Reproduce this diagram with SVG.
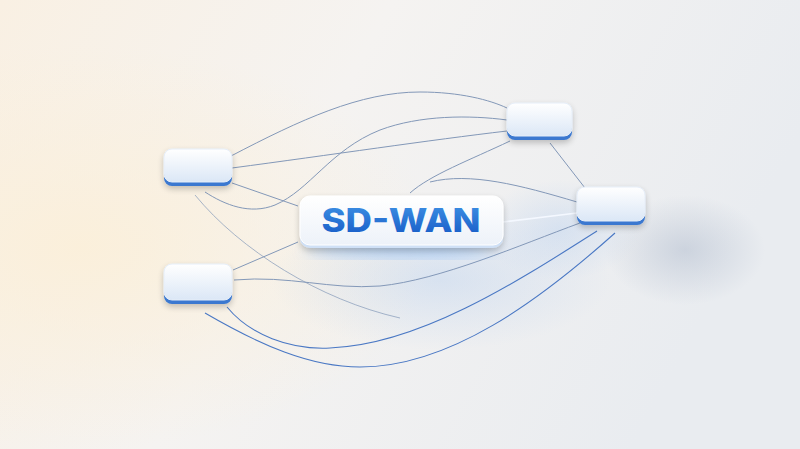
<svg xmlns="http://www.w3.org/2000/svg" width="800" height="449" viewBox="0 0 800 449">
<defs>
<linearGradient id="bg" x1="0" y1="0" x2="1" y2="0.3">
<stop offset="0" stop-color="#f9f0e3"/>
<stop offset="0.45" stop-color="#f5f3f1"/>
<stop offset="1" stop-color="#e9ecf0"/>
</linearGradient>
<radialGradient id="warm" cx="0.1" cy="0.55" r="0.45">
<stop offset="0" stop-color="#fbefd9" stop-opacity="0.9"/>
<stop offset="1" stop-color="#fbefd9" stop-opacity="0"/>
</radialGradient>
<radialGradient id="shade" cx="0.5" cy="0.5" r="0.5">
<stop offset="0" stop-color="#9fadc3" stop-opacity="0.4"/>
<stop offset="1" stop-color="#9fadc3" stop-opacity="0"/>
</radialGradient>
<radialGradient id="blueglow" cx="0.5" cy="0.5" r="0.5">
<stop offset="0" stop-color="#b3cdef" stop-opacity="0.4"/>
<stop offset="1" stop-color="#b3cdef" stop-opacity="0"/>
</radialGradient>
<linearGradient id="face" x1="0" y1="0" x2="0" y2="1">
<stop offset="0" stop-color="#ffffff"/>
<stop offset="1" stop-color="#dbe7f6"/>
</linearGradient>
<linearGradient id="cface" x1="0" y1="0" x2="0" y2="1">
<stop offset="0" stop-color="#ffffff"/>
<stop offset="1" stop-color="#edf2f9"/>
</linearGradient>
<linearGradient id="txt" x1="0" y1="0" x2="0" y2="1">
<stop offset="0" stop-color="#3f93e6"/>
<stop offset="1" stop-color="#1457c4"/>
</linearGradient>
<filter id="sh" x="-40%" y="-40%" width="180%" height="200%">
<feGaussianBlur in="SourceAlpha" stdDeviation="3"/>
<feOffset dy="3"/>
<feComponentTransfer><feFuncA type="linear" slope="0.22"/></feComponentTransfer>
<feMerge><feMergeNode/><feMergeNode in="SourceGraphic"/></feMerge>
</filter>
<filter id="blur8"><feGaussianBlur stdDeviation="8"/></filter>
</defs>
<style>
.ln{fill:none;stroke:#8398b8;stroke-width:1}
.lb{fill:none;stroke:#4a78c4;stroke-width:1.1}
.lw{fill:none;stroke:#f4f8ff;stroke-width:1.6}
.lip{fill:#3a78d0}
.nf{fill:url(#face);stroke:#e6eef9;stroke-width:1}
.lbl{font-family:Inter,"Liberation Sans",sans-serif;font-weight:800;font-size:32px;fill:url(#txt)}
</style>
<rect width="800" height="449" fill="url(#bg)"/>
<rect width="800" height="449" fill="url(#warm)"/>
<ellipse cx="685" cy="250" rx="80" ry="55" fill="url(#shade)"/>
<ellipse cx="440" cy="280" rx="170" ry="70" fill="url(#blueglow)"/>
<ellipse cx="560" cy="230" rx="80" ry="50" fill="url(#blueglow)"/>

<g id="connectors">
<path class="ln" d="M231,156 C300,120 360,92 420,92 C460,92 490,100 507,108"/>
<path class="ln" d="M205,192 C225,205 250,215 275,205 C310,190 330,150 380,130 C420,115 470,115 507,120"/>
<path class="ln" d="M232,168 C330,155 430,140 507,131"/>
<path class="ln" d="M232,183 L298,206"/>
<path class="ln" stroke-opacity="0.7" d="M195,195 C240,250 320,300 400,318"/>
<path class="ln" d="M510,141 C470,160 430,175 410,193"/>
<path class="ln" d="M550,143 L585,188"/>
<path class="ln" d="M430,182 C470,172 520,185 577,202"/>
<path class="lw" d="M503,222 L577,213"/>
<path class="ln" d="M298,242 L233,270"/>
<path class="ln" d="M234,280 C290,275 330,290 380,286 C440,280 520,245 580,223"/>
<path class="lb" d="M227,307 C250,335 290,350 330,348 C420,345 520,280 597,231"/>
<path class="lb" d="M205,313 C260,345 310,367 360,367 C450,367 540,300 615,233"/>
</g>

<g id="node-tl" filter="url(#sh)">
<rect class="lip" x="164" y="152" width="68" height="34" rx="8"/>
<rect class="nf" x="164" y="149" width="68" height="33" rx="8"/>
</g>
<g id="node-tr" filter="url(#sh)">
<rect class="lip" x="507" y="106" width="65" height="34" rx="8"/>
<rect class="nf" x="507" y="103" width="65" height="33" rx="8"/>
</g>
<g id="node-r" filter="url(#sh)">
<rect class="lip" x="577" y="190" width="68" height="35" rx="8"/>
<rect class="nf" x="577" y="187" width="68" height="34" rx="8"/>
</g>
<g id="node-bl" filter="url(#sh)">
<rect class="lip" x="164" y="267" width="68" height="37" rx="8"/>
<rect class="nf" x="164" y="264" width="68" height="36" rx="8"/>
</g>

<g id="node-center">
<ellipse cx="400" cy="250" rx="95" ry="8" fill="#8fbdf5" opacity="0.6" filter="url(#blur8)"/>
<g filter="url(#sh)">
<rect x="300" y="198" width="203" height="50" rx="10" fill="#cfe0f6"/>
<rect x="300" y="196" width="203" height="49" rx="10" fill="url(#cface)" stroke="#ffffff" stroke-width="1"/>
</g>
<text class="lbl" x="401" y="232" text-anchor="middle" textLength="159" lengthAdjust="spacingAndGlyphs">SD-WAN</text>
</g>
</svg>
